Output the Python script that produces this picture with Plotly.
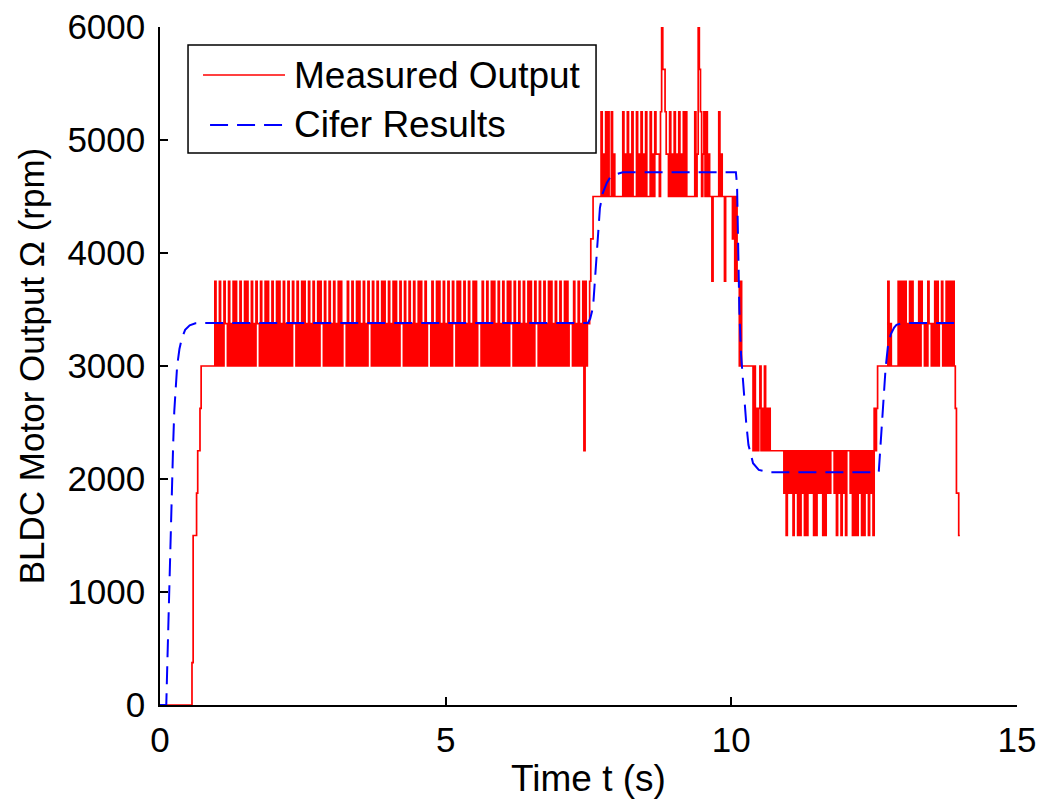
import plotly.graph_objects as go

# ---------------- data ----------------
# Measured output is quantised in 375 rpm steps; each character of a segment
# string is one sample (SAMPLE_DT apart) coded as an index into RPM_LEVELS.
RPM_LEVELS = [0, 375, 750, 1125, 1500, 1875, 2250, 2625, 3000, 3375,
              3750, 4125, 4500, 4875, 5250, 5625, 6000]
LEVEL_CODES = "0123456789abcdefg"
SAMPLE_DT = 0.02

MEASURED_SEGMENTS = [
    (0.00, "0"),
    (0.56, "144456678"),
    (0.94, "8a898a898a998a898a8a898a898a8a898a898a998a898a8a89"),
    (1.94, "8a898a8a898a898a898a998a898a8a898a898a898a8a998a89"),
    (2.94, "8a898a898a8a89998a898a898a8a898a898a998a898a898a8a"),
    (3.94, "898a898a8a898a998a898a898a898a8a898a89998a898a8a89"),
    (4.94, "8a898a898a998a8a898a898a898a8a89998a898a898a8a898a"),
    (5.94, "898a898a8a998a898a898a898a8a898a998a898a898a8a898a"),
    (6.94, "898a898a8a89998a898a898a6a89"),
    (7.50, "9abbc"),
    (7.70, "cecdcececcecdcccccccecdcecdcecccecdcecdceccce"
           "cdceddd" "cegffed"),
    (8.90, "cecdcecdcecdcececccccccecdgfecdececdccaccccc"
           "ecdccaccccccbcacaa8a8"),
    (10.38, "6867678676867676"),
    (10.90, "6564656564656464656464656564646565646465"
            "6566656465646564666564646465646465646564"),
    (12.50, "767888888888a8988888"),
    (12.90, "8a8a8a8a898a8a89898a8a99898a99898a8a899a898a8a8a8a8"),
    (13.92, "75544"),
]

CIFER_T = [0.0, 0.11, 0.13, 0.16, 0.19, 0.21, 0.23, 0.25, 0.28, 0.30,
           0.34, 0.38, 0.44, 0.52, 0.62, 0.80,
           7.49, 7.53, 7.58, 7.61, 7.65, 7.67, 7.70, 7.75, 7.82, 7.88,
           8.00, 8.10,
           10.08, 10.10, 10.12, 10.14, 10.17, 10.21, 10.26, 10.30, 10.38,
           10.48, 10.65,
           12.58, 12.62, 12.66, 12.70, 12.74, 12.79, 12.85, 12.89, 13.00, 14.00]
CIFER_RPM = [0, 0, 400, 1000, 1700, 2000, 2300, 2600, 2850, 3000,
             3150, 3240, 3320, 3360, 3378, 3380,
             3380, 3420, 3520, 3760, 4000, 4230, 4400, 4530, 4620, 4670,
             4700, 4715,
             4715, 4600, 4100, 3500, 3100, 2800, 2500, 2300, 2140,
             2080, 2060,
             2060, 2350, 2700, 2980, 3170, 3280, 3340, 3365, 3380, 3380]

X_TICKS = [0, 5, 10, 15]
Y_TICKS = [0, 1000, 2000, 3000, 4000, 5000, 6000]
SERIES_NAMES = ["Measured Output", "Cifer Results"]

# ---------------- decode measured samples ----------------
meas_t, meas_rpm = [], []
for t0, codes in MEASURED_SEGMENTS:
    for i, c in enumerate(codes):
        meas_t.append(round(t0 + i * SAMPLE_DT, 4))
        meas_rpm.append(RPM_LEVELS[LEVEL_CODES.index(c)])

FONT = "Liberation Sans, Arial, Helvetica, sans-serif"
BLUE_DASH = "18px,9px"
RED_W = 1.7

fig = go.Figure()
fig.add_trace(go.Scatter(x=meas_t, y=meas_rpm, mode="lines",
                         name=SERIES_NAMES[0], line_shape="hv",
                         line=dict(color="#ff0000", width=RED_W),
                         showlegend=False, cliponaxis=False))
fig.add_trace(go.Scatter(x=CIFER_T, y=CIFER_RPM, mode="lines",
                         name=SERIES_NAMES[1],
                         line=dict(color="#0000ff", width=2, dash=BLUE_DASH),
                         showlegend=False))

# ---------------- manual MATLAB-style legend ----------------
shapes = [
    dict(type="rect", xref="paper", yref="paper", x0=0.0327, x1=0.5088,
         y0=0.8142, y1=0.9735, line=dict(color="black", width=1.5),
         fillcolor="white", layer="above"),
    dict(type="line", xref="paper", yref="paper", x0=0.0502, x1=0.1459,
         y0=0.9292, y1=0.9292, line=dict(color="#ff0000", width=1.5),
         layer="above"),
    dict(type="line", xref="paper", yref="paper", x0=0.0584, x1=0.1459,
         y0=0.8555, y1=0.8555, line=dict(color="#0000ff", width=2,
                                         dash=BLUE_DASH), layer="above"),
]
annotations = [
    dict(xref="paper", yref="paper", x=0.1540, y=0.9292, text=SERIES_NAMES[0],
         showarrow=False, xanchor="left", yanchor="middle",
         font=dict(family=FONT, size=37, color="black")),
    dict(xref="paper", yref="paper", x=0.1540, y=0.8555, text=SERIES_NAMES[1],
         showarrow=False, xanchor="left", yanchor="middle",
         font=dict(family=FONT, size=37, color="black")),
]

axis_common = dict(
    showgrid=False, zeroline=False, showline=True, linecolor="black",
    linewidth=1.5, mirror=False, ticks="inside", ticklen=8, tickwidth=1.5,
    tickcolor="black", tickfont=dict(family=FONT, size=35, color="black"),
    automargin=False,
)

fig.update_layout(
    width=1042, height=802,
    margin=dict(l=160, r=25, t=27, b=97),
    paper_bgcolor="white", plot_bgcolor="white",
    showlegend=False,
    shapes=shapes, annotations=annotations,
    xaxis=dict(range=[0, 15], tickvals=X_TICKS,
               title=dict(text="Time t (s)", standoff=7,
                          font=dict(family=FONT, size=37, color="black")),
               ticklabelstandoff=3, **axis_common),
    yaxis=dict(range=[0, 6000], tickvals=Y_TICKS,
               title=dict(text="BLDC Motor Output \u03a9 (rpm)", standoff=12,
                          font=dict(family=FONT, size=35, color="black")),
               ticklabelstandoff=6, **axis_common),
)

fig.write_html("out.html")
